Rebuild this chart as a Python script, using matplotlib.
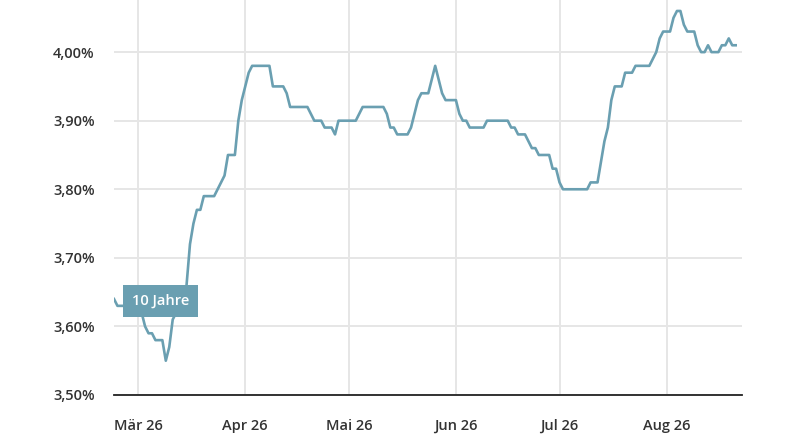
import numpy as np
import matplotlib.pyplot as plt
from matplotlib.ticker import FuncFormatter

# Rendite 10 Jahre (Stützpunkte der Linie)
dates = [
    "2026-02-22", "2026-02-23", "2026-02-24", "2026-02-27", "2026-03-01", "2026-03-02",
    "2026-03-03", "2026-03-04", "2026-03-05", "2026-03-06", "2026-03-08", "2026-03-09",
    "2026-03-10", "2026-03-11", "2026-03-12", "2026-03-13", "2026-03-14", "2026-03-15",
    "2026-03-16", "2026-03-17", "2026-03-18", "2026-03-19", "2026-03-20", "2026-03-23",
    "2026-03-24", "2026-03-26", "2026-03-27", "2026-03-29", "2026-03-30", "2026-03-31",
    "2026-04-01", "2026-04-02", "2026-04-03", "2026-04-08", "2026-04-09", "2026-04-12",
    "2026-04-13", "2026-04-14", "2026-04-19", "2026-04-21", "2026-04-23", "2026-04-24",
    "2026-04-26", "2026-04-27", "2026-04-28", "2026-05-03", "2026-05-05", "2026-05-11",
    "2026-05-12", "2026-05-13", "2026-05-14", "2026-05-15", "2026-05-18", "2026-05-19",
    "2026-05-21", "2026-05-22", "2026-05-24", "2026-05-26", "2026-05-28", "2026-05-29",
    "2026-06-01", "2026-06-02", "2026-06-03", "2026-06-04", "2026-06-05", "2026-06-09",
    "2026-06-10", "2026-06-16", "2026-06-17", "2026-06-18", "2026-06-19", "2026-06-21",
    "2026-06-23", "2026-06-24", "2026-06-25", "2026-06-28", "2026-06-29", "2026-06-30",
    "2026-07-01", "2026-07-02", "2026-07-09", "2026-07-10", "2026-07-12", "2026-07-14",
    "2026-07-15", "2026-07-16", "2026-07-17", "2026-07-19", "2026-07-20", "2026-07-22",
    "2026-07-23", "2026-07-27", "2026-07-29", "2026-07-30", "2026-07-31", "2026-08-02",
    "2026-08-03", "2026-08-04", "2026-08-05", "2026-08-06", "2026-08-07", "2026-08-09",
    "2026-08-10", "2026-08-11", "2026-08-12", "2026-08-13", "2026-08-14", "2026-08-16",
    "2026-08-17", "2026-08-18", "2026-08-19", "2026-08-20", "2026-08-21",
]
values = [
    3.64, 3.63, 3.63, 3.63, 3.62, 3.62,
    3.60, 3.59, 3.59, 3.58, 3.58, 3.55,
    3.57, 3.61, 3.62, 3.63, 3.65, 3.66,
    3.72, 3.75, 3.77, 3.77, 3.79, 3.79,
    3.80, 3.82, 3.85, 3.85, 3.90, 3.93,
    3.95, 3.97, 3.98, 3.98, 3.95, 3.95,
    3.94, 3.92, 3.92, 3.90, 3.90, 3.89,
    3.89, 3.88, 3.90, 3.90, 3.92, 3.92,
    3.91, 3.89, 3.89, 3.88, 3.88, 3.89,
    3.93, 3.94, 3.94, 3.98, 3.94, 3.93,
    3.93, 3.91, 3.90, 3.90, 3.89, 3.89,
    3.90, 3.90, 3.89, 3.89, 3.88, 3.88,
    3.86, 3.86, 3.85, 3.85, 3.83, 3.83,
    3.81, 3.80, 3.80, 3.81, 3.81, 3.87,
    3.89, 3.93, 3.95, 3.95, 3.97, 3.97,
    3.98, 3.98, 4.00, 4.02, 4.03, 4.03,
    4.05, 4.06, 4.06, 4.04, 4.03, 4.03,
    4.01, 4.00, 4.00, 4.01, 4.00, 4.00,
    4.01, 4.01, 4.02, 4.01, 4.01,
]

month_ticks = ["2026-03-01", "2026-04-01", "2026-05-01", "2026-06-01", "2026-07-01", "2026-08-01"]
month_labels = ["Mär 26", "Apr 26", "Mai 26", "Jun 26", "Jul 26", "Aug 26"]
y_ticks = [3.5, 3.6, 3.7, 3.8, 3.9, 4.0]
series_name = "10 Jahre"

line_color = "#6a9fb1"
text_color = "#333333"

plt.rcParams["font.family"] = ["Open Sans", "DejaVu Sans"]

x = np.array(dates, dtype="datetime64[D]")

fig = plt.figure(figsize=(7.97, 4.42), dpi=100)
ax = fig.add_axes([114 / 797, 47 / 442, 628 / 797, 395 / 442])

ax.plot(x, values, color=line_color, linewidth=1.9, solid_joinstyle="round", zorder=3)

ax.set_xlim(np.datetime64("2026-02-22"), np.datetime64("2026-08-22T20:00"))
ax.set_ylim(3.5, 4.076)

ax.set_xticks(np.array(month_ticks, dtype="datetime64[D]"))
ax.set_xticklabels(month_labels)
ax.set_yticks(y_ticks)
ax.yaxis.set_major_formatter(FuncFormatter(lambda v, p: f"{v:.2f}%".replace(".", ",")))

ax.grid(True, color="#e6e6e6", linewidth=1.4, zorder=0)
ax.set_axisbelow(True)
for side in ["top", "right", "left"]:
    ax.spines[side].set_visible(False)
ax.spines["bottom"].set_color("#222222")
ax.spines["bottom"].set_linewidth(1.3)
ax.spines["bottom"].set_zorder(4)

ax.tick_params(axis="both", length=0, labelsize=10.5, labelcolor=text_color)
ax.tick_params(axis="x", pad=17)
ax.tick_params(axis="y", pad=14)
for lbl in ax.get_xticklabels() + ax.get_yticklabels():
    lbl.set_fontweight("semibold")

# Serienlabel am Anfang der Linie
ax.text(np.datetime64("2026-03-07T12:00"), 3.637, series_name, color="white",
        fontsize=10.5, fontweight="semibold", ha="center", va="center", zorder=5,
        bbox=dict(boxstyle="square,pad=0.62", facecolor=line_color, edgecolor="none"))

fig.savefig("out.png", dpi=100)
